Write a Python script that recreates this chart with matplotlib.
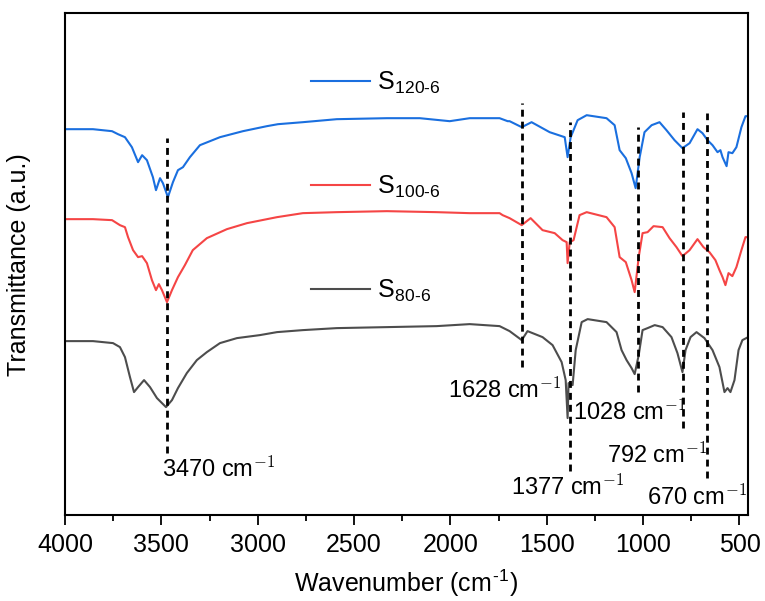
import matplotlib
matplotlib.use('Agg')
import matplotlib.pyplot as plt
from matplotlib.ticker import MultipleLocator

plt.rcParams['font.family'] = ['Liberation Sans', 'DejaVu Sans']
plt.rcParams['mathtext.fontset'] = 'cm'

# spectra (arbitrary units, already offset)
wn_120 = [3995, 3855, 3756, 3725, 3689, 3653, 3621, 3600, 3575, 3544, 3528, 3507, 3492, 3466,
          3440, 3414, 3388, 3352, 3300, 3196, 3077, 2953, 2895, 2766, 2590, 2330, 2159, 2004,
          1900, 1745, 1703, 1693, 1630, 1579, 1485, 1407, 1392, 1376, 1340, 1293, 1190, 1148,
          1122, 1090, 1060, 1039, 1018, 993, 956, 915, 879, 837, 796, 759, 718, 692, 666, 640,
          614, 599, 588, 567, 557, 537, 516, 490, 469, 455]
t_120 = [386, 386, 384, 381, 378, 368, 353, 360, 355, 338, 325, 337, 332, 318,
         333, 345, 348, 358, 370, 378, 384, 389, 391, 393, 396, 397, 397, 394,
         397, 397, 394, 394, 388, 393, 383, 378, 358, 378, 395, 400, 397, 390,
         365, 357, 342, 327, 358, 383, 390, 393, 385, 375, 367, 372, 386, 382, 375, 370,
         363, 365, 358, 349, 363, 362, 368, 388, 399, 399]

wn_100 = [3995, 3855, 3756, 3715, 3689, 3673, 3647, 3621, 3600, 3575, 3549, 3528, 3513, 3497,
          3471, 3445, 3414, 3378, 3337, 3264, 3160, 3056, 2900, 2766, 2590, 2330, 2071, 1900,
          1745, 1729, 1693, 1630, 1584, 1522, 1459, 1418, 1397, 1392, 1381, 1361, 1330, 1293,
          1190, 1148, 1122, 1090, 1060, 1044, 1023, 1003, 977, 946, 899, 863, 827, 796, 759,
          718, 687, 656, 625, 604, 588, 573, 557, 537, 516, 490, 469, 455]
t_100 = [296, 296, 295, 290, 288, 278, 265, 258, 259, 252, 235, 225, 231, 225,
         213, 225, 238, 250, 265, 277, 286, 292, 298, 302, 303, 304, 303, 302,
         302, 300, 297, 290, 297, 285, 282, 275, 273, 252, 273, 275, 300, 303,
         298, 288, 258, 253, 235, 223, 258, 282, 283, 289, 288, 277, 268, 259, 265,
         276, 268, 263, 255, 245, 238, 230, 242, 239, 248, 265, 278, 278]

wn_80 = [3995, 3855, 3751, 3715, 3689, 3663, 3642, 3621, 3590, 3559, 3523, 3497, 3476, 3445,
         3414, 3368, 3316, 3264, 3196, 3108, 2989, 2900, 2766, 2590, 2330, 2071, 1900, 1745,
         1693, 1630, 1600, 1522, 1470, 1423, 1402, 1392, 1387, 1366, 1350, 1319, 1288, 1190,
         1138, 1112, 1086, 1060, 1044, 1023, 1003, 977, 940, 899, 853, 822, 796, 780, 754,
         723, 682, 640, 604, 578, 562, 547, 526, 505, 485, 455]
t_80 = [174, 174, 172, 168, 158, 138, 123, 128, 135, 128, 117, 112, 108, 115,
        127, 142, 155, 163, 172, 177, 180, 183, 185, 187, 188, 189, 191, 189,
        184, 175, 184, 178, 170, 153, 135, 97, 132, 130, 165, 193, 196, 193,
        183, 165, 155, 147, 141, 160, 185, 187, 190, 188, 178, 162, 143, 165, 178,
        183, 177, 165, 148, 123, 127, 123, 135, 165, 175, 178]

labels = ['S$_{\\mathregular{120\u20106}}$', 'S$_{\\mathregular{100\u20106}}$',
          'S$_{\\mathregular{80\u20106}}$']
colors = ['#1a6fdf', '#f54545', '#4d4d4d']

# marked bands
peaks = [3470, 1628, 1377, 1028, 792, 670]
peak_top = [377, 412, 393, 388, 403, 402]
peak_bottom = [62, 148, 44, 123, 87, 37]
peak_text_x = [3497, 2014, 1688, 1366, 1185, 982]
peak_text_y = [46, 125, 28, 103, 60, 18]

fig, ax = plt.subplots(figsize=(7.65, 6.01), dpi=100)
fig.subplots_adjust(left=0.085, right=0.978, bottom=0.143, top=0.978)

for wn, t, lab, c in zip([wn_120, wn_100, wn_80], [t_120, t_100, t_80], labels, colors):
    ax.plot(wn, t, color=c, lw=1.5, label=lab)

ax.vlines(peaks, peak_bottom, peak_top, colors='k', lw=2, linestyles=(0, (2.5, 1.8)))
for p, x, y in zip(peaks, peak_text_x, peak_text_y):
    ax.text(x, y, '%d cm$^{-1}$' % p, fontsize=17, ha='left', va='center')

ax.set_xlim(4000, 455)
ax.set_ylim(0, 502)
ax.xaxis.set_major_locator(MultipleLocator(500))
ax.xaxis.set_minor_locator(MultipleLocator(250))
ax.set_yticks([])
ax.tick_params(axis='x', which='major', direction='out', length=7, width=1.3, labelsize=18, pad=6)
ax.tick_params(axis='x', which='minor', direction='out', length=4, width=1.3)
for s in ax.spines.values():
    s.set_linewidth(1.5)

ax.set_xlabel('Wavenumber (cm$^{\\mathregular{\u20101}}$)', fontsize=18, labelpad=8)
ax.set_ylabel('Transmittance (a.u.)', fontsize=18)
ax.yaxis.set_label_coords(-0.05, 0.5)

ax.legend(loc='upper left', bbox_to_anchor=(0.36, 0.887), frameon=False, fontsize=18,
          handlelength=2.36, handletextpad=0.3, labelspacing=3.1, borderpad=0, borderaxespad=0)

plt.savefig('out.png', dpi=100)
